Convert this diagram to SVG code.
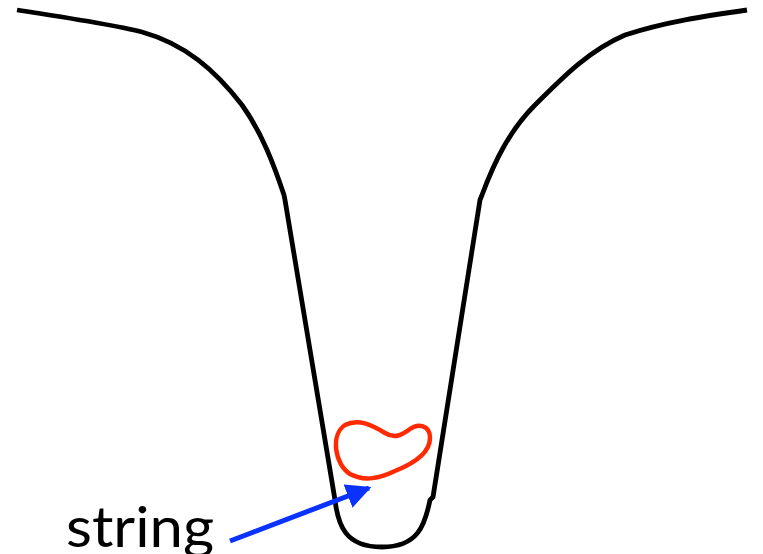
<svg xmlns="http://www.w3.org/2000/svg" width="763" height="554" viewBox="0 0 763 554">
<style>
.wall{fill:none;stroke:#000;stroke-width:4.8;stroke-linejoin:round}
.blob{fill:none;stroke:#ff2a00;stroke-width:4.5}
.arrow{stroke:#0a32ff;stroke-width:5;fill:none}
.lbl{font-family:Lato,"Open Sans",sans-serif;font-size:57px;fill:#000}
</style>
<defs>
<marker id="ah" viewBox="0 0 10 10" refX="9" refY="5" markerWidth="5" markerHeight="5" orient="auto" markerUnits="strokeWidth">
<path d="M0,0 L10,5 L0,10 z" fill="#0a32ff"/>
</marker>
</defs>
<g id="well">
<path class="wall" d="M17,10 C70,18 115,25 142,32 C185,44 215,70 242,105 C262,133 274,165 284,195 L285,200 L335,500 C338,525 345,547 382,547 C418,547 425,525 430,500 L433,497 L480,200 L482,195 C495,160 510,130 535,105 C565,75 590,50 625,35 C665,22 705,16 747,10"/>
</g>
<g id="blob">
<path class="blob" d="M345,425 C358,418 372,425 385,433 C395,439 402,435 410,429 C418,423 430,425 430,438 C430,452 415,463 395,471 C380,478 365,482 350,474 C335,465 330,435 345,425 Z"/>
</g>
<g id="connectors">
<path class="arrow" d="M230,541 L369,488" marker-end="url(#ah)"/>
</g>
<g id="label">
<text class="lbl" x="66" y="547" textLength="148" lengthAdjust="spacingAndGlyphs">string</text>
</g>
</svg>
